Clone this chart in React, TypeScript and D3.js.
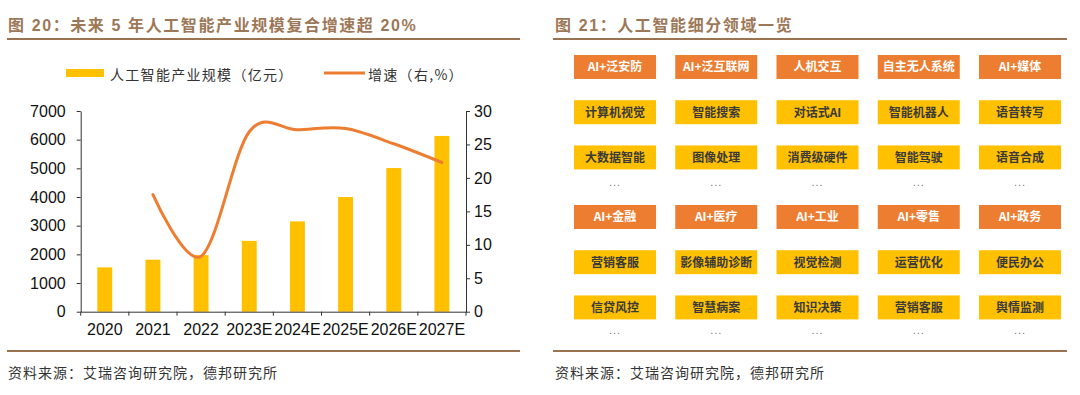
import React, { useEffect, useRef } from 'react';
import * as d3 from 'd3';

const years = ['2020', '2021', '2022', '2023E', '2024E', '2025E', '2026E', '2027E'];
const industryScale = [1545, 1815, 1970, 2470, 3150, 4000, 5010, 6130];
const growthRate: (number | null)[] = [null, 17.5, 8.3, 26.9, 27.2, 27.4, 25.1, 22.3];
const leftTicks = [0, 1000, 2000, 3000, 4000, 5000, 6000, 7000];
const rightTicks = [0, 5, 10, 15, 20, 25, 30];

const headRow1 = ['AI+泛安防', 'AI+泛互联网', '人机交互', '自主无人系统', 'AI+媒体'];
const subRow1a = ['计算机视觉', '智能搜索', '对话式AI', '智能机器人', '语音转写'];
const subRow1b = ['大数据智能', '图像处理', '消费级硬件', '智能驾驶', '语音合成'];
const headRow2 = ['AI+金融', 'AI+医疗', 'AI+工业', 'AI+零售', 'AI+政务'];
const subRow2a = ['营销客服', '影像辅助诊断', '视觉检测', '运营优化', '便民办公'];
const subRow2b = ['信贷风控', '智慧病案', '知识决策', '营销客服', '舆情监测'];

const W = 1080;
const H = 395;
const BROWN = '#9c7350';
const TITLE = '#9d7858';
const ORANGE = '#ED7D31';
const GOLD = '#FFC000';
const CJK = '"Noto Sans CJK SC", sans-serif';
const LATIN = '"Liberation Sans", "Noto Sans CJK SC", sans-serif';

const App = () => {
  const ref = useRef<SVGSVGElement>(null);

  useEffect(() => {
    const svg = d3.select(ref.current);
    svg.selectAll('*').remove();

    // titles, rules, sources
    const panels = [
      { x: 8, x1: 7, x2: 520, title: '图 20：未来 5 年人工智能产业规模复合增速超 20%' },
      { x: 555, x1: 553, x2: 1067, title: '图 21：人工智能细分领域一览' },
    ];
    panels.forEach((p) => {
      svg.append('text')
        .attr('x', p.x).attr('y', 31)
        .attr('font-family', LATIN).attr('font-size', 16).attr('font-weight', 'bold')
        .attr('letter-spacing', 1.6).attr('fill', TITLE)
        .text(p.title);
      [39, 351].forEach((y) => {
        svg.append('line')
          .attr('x1', p.x1).attr('x2', p.x2).attr('y1', y).attr('y2', y)
          .attr('stroke', BROWN).attr('stroke-width', 2);
      });
      svg.append('text')
        .attr('x', p.x).attr('y', 378)
        .attr('font-family', CJK).attr('font-size', 14).attr('letter-spacing', 1)
        .attr('fill', '#333')
        .text('资料来源：艾瑞咨询研究院，德邦研究所');
    });

    // ---- left chart ----
    const x = d3.scaleBand().domain(years).range([80.7, 466]).paddingInner(0.69).paddingOuter(0.345);
    const band = d3.scaleBand().domain(years).range([80.7, 466]);
    const yL = d3.scaleLinear().domain([0, 7000]).range([311.7, 111]);
    const yR = d3.scaleLinear().domain([0, 30]).range([311.7, 111]);

    const g = svg.append('g');

    g.selectAll('.bar')
      .data(industryScale)
      .enter().append('rect')
      .attr('x', (d, i) => x(years[i])!)
      .attr('width', x.bandwidth())
      .attr('y', (d) => yL(d))
      .attr('height', (d) => yL(0) - yL(d))
      .attr('fill', GOLD);

    const pts = years.map((yr, i) => [yr, growthRate[i]] as [string, number | null]);
    const line = d3.line<[string, number | null]>()
      .x((d) => band(d[0])! + band.bandwidth() / 2)
      .y((d) => yR(d[1] as number))
      .curve(d3.curveCatmullRom.alpha(0));
    g.append('path')
      .datum(pts.filter((d) => d[1] != null))
      .attr('d', line)
      .attr('fill', 'none')
      .attr('stroke', ORANGE)
      .attr('stroke-width', 3)
      .attr('stroke-linecap', 'round');

    const axL = g.append('g').attr('transform', 'translate(80.7,0)')
      .call(d3.axisLeft(yL).tickValues(leftTicks).tickFormat(d3.format('d')).tickSize(4).tickSizeOuter(0).tickPadding(11));
    const axR = g.append('g').attr('transform', 'translate(466,0)')
      .call(d3.axisRight(yR).tickValues(rightTicks).tickSize(4).tickSizeOuter(0).tickPadding(4));
    const axB = g.append('g').attr('transform', 'translate(0,311.7)')
      .call(d3.axisBottom(band).tickSize(0).tickSizeOuter(0).tickPadding(12));
    [axL, axR, axB].forEach((a) => {
      a.selectAll('path').attr('stroke', '#333');
      a.selectAll('line').attr('stroke', '#333');
      a.selectAll('text').attr('font-family', LATIN).attr('font-size', 16).attr('fill', '#111');
    });
    axB.selectAll('text').attr('dy', '0.71em');
    const bounds = years.map((yr) => band(yr)!).concat([band.range()[1]]);
    g.selectAll('.xtick')
      .data(bounds)
      .enter().append('line')
      .attr('x1', (d) => d).attr('x2', (d) => d)
      .attr('y1', yL(0)).attr('y2', yL(0) + 4)
      .attr('stroke', '#333');

    // legend
    const lg = svg.append('g');
    lg.append('rect').attr('x', 66).attr('y', 69).attr('width', 38).attr('height', 8).attr('fill', GOLD);
    lg.append('text').attr('x', 110).attr('y', 74).attr('dominant-baseline', 'central')
      .attr('font-family', CJK).attr('font-size', 14).attr('letter-spacing', 1.3).attr('fill', '#333')
      .text('人工智能产业规模（亿元）');
    lg.append('line').attr('x1', 324).attr('x2', 365).attr('y1', 73).attr('y2', 73)
      .attr('stroke', ORANGE).attr('stroke-width', 3);
    lg.append('text').attr('x', 368).attr('y', 74).attr('dominant-baseline', 'central')
      .attr('font-family', CJK).attr('font-size', 14).attr('letter-spacing', 1.3).attr('fill', '#333')
      .text('增速（右,%）');

    // ---- right grid ----
    const col = d3.scaleBand<number>().domain([0, 1, 2, 3, 4]).range([574, 1061]).paddingInner(0.19);
    const row = d3.scaleBand<number>().domain([0, 1, 2]).range([55, 169.4]).paddingInner(0.47);
    const groups = [
      { top: 0, rows: [headRow1, subRow1a, subRow1b], dots: 186 },
      { top: 150, rows: [headRow2, subRow2a, subRow2b], dots: 334 },
    ];
    groups.forEach((grp) => {
      const gg = svg.append('g').attr('transform', `translate(0,${grp.top})`);
      grp.rows.forEach((labels, r) => {
        labels.forEach((label, c) => {
          gg.append('rect')
            .attr('x', col(c)!).attr('y', row(r)!)
            .attr('width', col.bandwidth()).attr('height', row.bandwidth())
            .attr('fill', r === 0 ? ORANGE : GOLD);
          gg.append('text')
            .attr('x', col(c)! + col.bandwidth() / 2)
            .attr('y', row(r)! + row.bandwidth() / 2)
            .attr('dy', '0.36em')
            .attr('text-anchor', 'middle')
            .attr('font-family', CJK).attr('font-size', 12)
            .attr('font-weight', 'bold')
            .attr('fill', r === 0 ? '#fff' : '#3a3a3a')
            .text(label);
        });
      });
      [0, 1, 2, 3, 4].forEach((c) => {
        svg.append('text')
          .attr('x', col(c)! + col.bandwidth() / 2)
          .attr('y', grp.dots)
          .attr('text-anchor', 'middle')
          .attr('font-family', LATIN).attr('font-size', 11).attr('letter-spacing', 1)
          .attr('fill', '#777')
          .text('...');
      });
    });
  }, []);

  return (
    <svg
      ref={ref}
      width={W}
      height={H}
      style={{ position: 'absolute', left: 0, top: 0, background: '#fff' }}
    />
  );
};

export default App;
